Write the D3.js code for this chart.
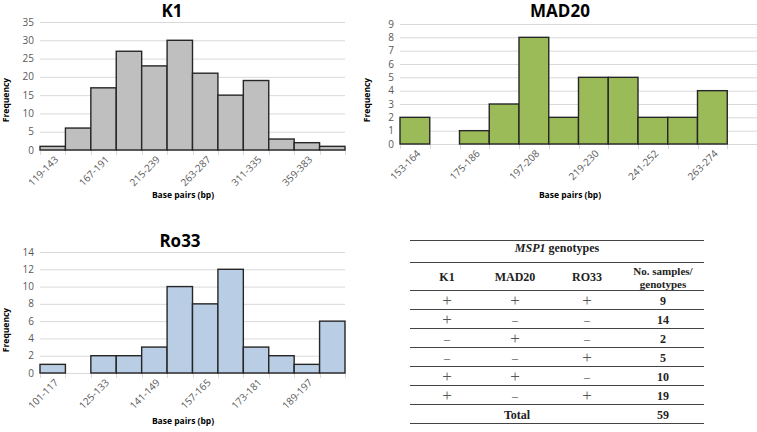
<!DOCTYPE html>
<html><head><meta charset="utf-8">
<script src="https://cdn.jsdelivr.net/npm/d3@7/dist/d3.min.js"></script>
<style>body{margin:0;background:#fff}svg{display:block}</style>
</head><body>
<svg id="c" width="757" height="432"></svg>
<script>
// ---- data ----
const k1Bins = ["119-143","143-167","167-191","191-215","215-239","239-263","263-287","287-311","311-335","335-359","359-383","383-407"];
const k1Values = [1,6,17,27,23,30,21,15,19,3,2,1];
const mad20Bins = ["153-164","164-175","175-186","186-197","197-208","208-219","219-230","230-241","241-252","252-263","263-274","274-285"];
const mad20Values = [2,0,1,3,8,2,5,5,2,2,4,0];
const ro33Bins = ["101-117","117-125","125-133","133-141","141-149","149-157","157-165","165-173","173-181","181-189","189-197","197-205"];
const ro33Values = [1,0,2,2,3,10,8,12,3,2,1,6];
const k1Ticks = [0,5,10,15,20,25,30,35];
const mad20Ticks = [0,1,2,3,4,5,6,7,8,9];
const ro33Ticks = [0,2,4,6,8,10,12,14];
const tableHeader = ["K1","MAD20","RO33"];
const colK1 = ["+","+","–","–","+","+"];
const colMAD20 = ["+","–","+","–","+","–"];
const colRO33 = ["+","–","–","+","–","+"];
const sampleCounts = [9,14,2,5,10,19];
const totalCount = 59;

const svg = d3.select("#c");
const tickFont = "'Open Sans', sans-serif";

function hist(o){
  const g = svg.append("g");
  const x = d3.scaleBand().domain(o.bins).range([o.x0, o.x1]).padding(0);
  const y = d3.scaleLinear().domain([0, d3.max(o.ticks)]).range([o.y0, o.y1]);
  g.selectAll("line.grid").data(o.ticks).join("line")
    .attr("x1", o.x0).attr("x2", o.x1)
    .attr("y1", d=>y(d)+0.5).attr("y2", d=>y(d)+0.5)
    .attr("stroke", "#d9d9d9").attr("stroke-width", 1);
  g.selectAll("text.yt").data(o.ticks).join("text")
    .attr("x", o.x0 - 6).attr("y", d=>y(d)).attr("dy", "0.35em")
    .attr("text-anchor", "end").attr("font-family", tickFont)
    .attr("font-size", 10).attr("fill", "#595959").text(d=>d);
  const bounds = o.bins.map(b=>x(b)).concat([o.x1]);
  g.selectAll("line.tk").data(bounds).join("line")
    .attr("x1", d=>Math.round(d)+0.5).attr("x2", d=>Math.round(d)+0.5)
    .attr("y1", o.y0).attr("y2", o.y0+5)
    .attr("stroke", "#d9d9d9");
  g.selectAll("rect.bar").data(o.values.map((v,i)=>({v, b:o.bins[i]})).filter(d=>d.v>0)).join("rect")
    .attr("x", d=>x(d.b)).attr("width", x.bandwidth())
    .attr("y", d=>y(d.v)).attr("height", d=>o.y0 - y(d.v))
    .attr("fill", o.color).attr("stroke", "#262626").attr("stroke-width", 1.4);
  g.selectAll("text.xl").data(o.bins.filter((b,i)=>i%2===0)).join("text")
    .attr("transform", d=>`translate(${x(d)+x.bandwidth()/2+2},${o.y0+6}) rotate(-45)`)
    .attr("text-anchor", "end").attr("dy", "0.6em")
    .attr("font-family", tickFont).attr("font-size", 10).attr("fill", "#595959").text(d=>d);
  g.append("text").attr("x", o.tx).attr("y", o.ty).attr("text-anchor", "middle")
    .attr("font-family", "'Open Sans', sans-serif").attr("font-weight", "bold")
    .attr("font-size", 17).attr("fill", "#000").text(o.title);
  g.append("text").attr("x", o.bx).attr("y", o.by).attr("text-anchor", "middle")
    .attr("font-family", tickFont).attr("font-weight", "bold")
    .attr("font-size", 8.5).attr("fill", "#000").text("Base pairs (bp)");
  g.append("text").attr("transform", `translate(${o.fx},${o.fy}) rotate(-90)`)
    .attr("text-anchor", "middle").attr("font-family", tickFont).attr("font-weight", "bold")
    .attr("font-size", 8.5).attr("fill", "#000").text("Frequency");
}

hist({bins:k1Bins, values:k1Values, ticks:k1Ticks, color:"#bfbfbf",
  x0:40, x1:345, y0:150, y1:22, title:"K1", tx:172, ty:17, bx:183, by:198, fx:9, fy:100});
hist({bins:mad20Bins, values:mad20Values, ticks:mad20Ticks, color:"#9bbb59",
  x0:400, x1:757, y0:144, y1:24, title:"MAD20", tx:560, ty:17, bx:570, by:198, fx:370, fy:100});
hist({bins:ro33Bins, values:ro33Values, ticks:ro33Ticks, color:"#b9cde5",
  x0:40, x1:345, y0:373, y1:252, title:"Ro33", tx:180, ty:247, bx:183, by:424, fx:9, fy:330});

// ---- table ----
const t = svg.append("g").attr("font-family", "'Liberation Serif', serif");
const lineYs = [240.5, 262.5, 290.5, 309.5, 328.5, 347.5, 366.5, 385.5, 404.5, 423.5];
t.selectAll("line").data(lineYs).join("line")
  .attr("x1", 410).attr("x2", 704).attr("y1", d=>d).attr("y2", d=>d)
  .attr("stroke", "#444").attr("stroke-width", 1.1);
const title = t.append("text").attr("x", 557).attr("y", 252).attr("text-anchor", "middle")
  .attr("font-size", 12).attr("fill", "#222");
title.append("tspan").attr("font-style", "italic").attr("font-weight", "bold").text("MSP1");
title.append("tspan").attr("font-weight", "bold").text(" genotypes");
const colX = [447, 515, 587];
t.selectAll("text.h").data(tableHeader).join("text")
  .attr("x", (d,i)=>colX[i]).attr("y", 281).attr("text-anchor", "middle")
  .attr("font-size", 12).attr("font-weight", "bold").attr("fill", "#222").text(d=>d);
t.append("text").attr("x", 663).attr("y", 275).attr("text-anchor", "middle")
  .attr("font-size", 11).attr("font-weight", "bold").attr("fill", "#222").text("No. samples/");
t.append("text").attr("x", 663).attr("y", 287.5).attr("text-anchor", "middle")
  .attr("font-size", 11).attr("font-weight", "bold").attr("fill", "#222").text("genotypes");
const rowY = i => 300 + i*19 + 4.5;
[colK1, colMAD20, colRO33].forEach((col, ci) => {
  t.selectAll("text.c"+ci).data(col).join("text")
    .attr("x", colX[ci]).attr("y", (d,i)=>rowY(i) + (d==="+"?1:0)).attr("text-anchor", "middle")
    .attr("font-size", d=>d==="+"?17:12).attr("fill", "#555").text(d=>d);
});
t.selectAll("text.n").data(sampleCounts).join("text")
  .attr("x", 663).attr("y", (d,i)=>rowY(i)).attr("text-anchor", "middle")
  .attr("font-size", 12).attr("font-weight", "bold").attr("fill", "#222").text(d=>d);
t.append("text").attr("x", 517).attr("y", 419).attr("text-anchor", "middle")
  .attr("font-size", 12).attr("font-weight", "bold").attr("fill", "#222").text("Total");
t.append("text").attr("x", 663).attr("y", 419).attr("text-anchor", "middle")
  .attr("font-size", 12).attr("font-weight", "bold").attr("fill", "#222").text(totalCount);
</script>
</body></html>
